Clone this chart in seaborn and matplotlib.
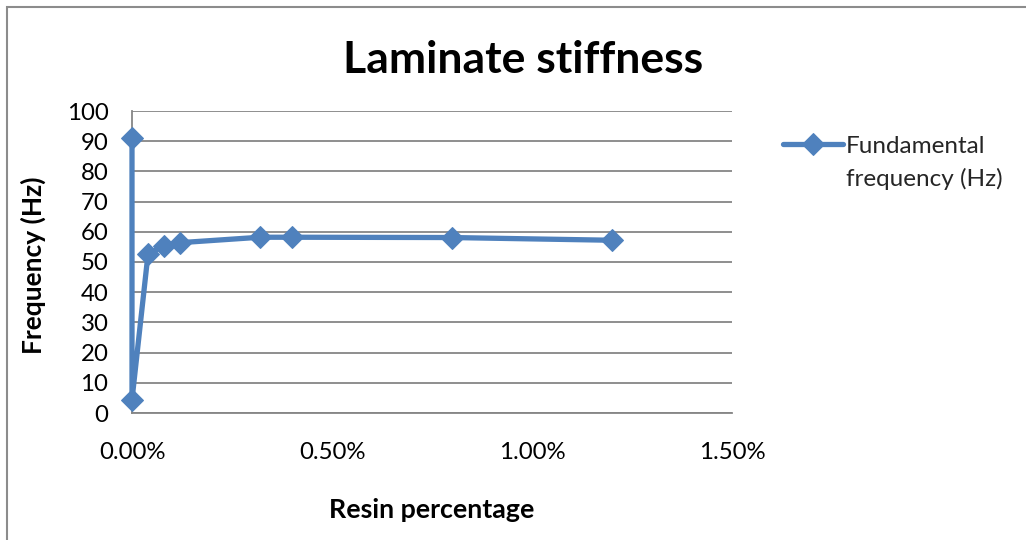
import matplotlib
matplotlib.use("Agg")
import matplotlib.pyplot as plt
from matplotlib.patches import Rectangle
from matplotlib.ticker import FuncFormatter, MultipleLocator
import seaborn as sns
import pandas as pd

# Resin fraction (as a fraction, shown as %) and measured fundamental frequency
resin_fraction = [0.0, 0.0, 0.0004, 0.0008, 0.0012, 0.0032, 0.0040, 0.0080, 0.0120]
frequency_hz = [91.2, 4.4, 52.6, 55.4, 56.4, 58.2, 58.2, 58.1, 57.2]
series_name = "Fundamental\nfrequency (Hz)"

title = "Laminate stiffness"
x_label = "Resin percentage"
y_label = "Frequency (Hz)"

df = pd.DataFrame({"resin": resin_fraction, "freq": frequency_hz})

sns.set_theme(style="white")
plt.rcParams["font.family"] = ["Lato", "DejaVu Sans"]

W, H = 1026, 540
fig = plt.figure(figsize=(W / 100, H / 100), dpi=100)
fig.patch.set_facecolor("white")

left, right, top, bottom = 132, 732, 111, 413
ax = fig.add_axes([left / W, 1 - bottom / H, (right - left) / W, (bottom - top) / H])

blue = "#4F81BD"
grid_c = "#868686"

sns.lineplot(data=df, x="resin", y="freq", sort=False, estimator=None,
             color=blue, linewidth=3.8, marker="D", markersize=11,
             markeredgecolor=blue, markerfacecolor=blue, label=series_name,
             ax=ax, zorder=3, clip_on=False)

ax.set_xlim(0, 0.015)
ax.set_ylim(0, 100)
ax.xaxis.set_major_locator(MultipleLocator(0.005))
ax.yaxis.set_major_locator(MultipleLocator(10))
ax.xaxis.set_major_formatter(FuncFormatter(lambda v, p: f"{v * 100:.2f}%"))
ax.yaxis.set_major_formatter(FuncFormatter(lambda v, p: f"{v:.0f}"))

ax.yaxis.grid(True, color=grid_c, linewidth=1.3)
ax.xaxis.grid(False)
ax.set_axisbelow(True)
for side in ["top", "right"]:
    ax.spines[side].set_visible(False)
for side in ["left", "bottom"]:
    ax.spines[side].set_color(grid_c)
    ax.spines[side].set_linewidth(1.3)

ax.tick_params(axis="y", length=0, pad=17, labelsize=17.3, labelcolor="black")
ax.tick_params(axis="x", length=0, pad=21, labelsize=17.3, labelcolor="black")

ax.set_xlabel(x_label, fontsize=19.3, fontweight="bold", color="black", labelpad=25)
ax.set_ylabel(y_label, fontsize=19, fontweight="bold", color="black")
ax.yaxis.set_label_coords(-0.143, 0.49)

fig.text(523 / W, 1 - 60 / H, title, ha="center", va="center",
         fontsize=32, fontweight="bold", color="black")

# tall handle box lifts the legend line to the first text row
leg = ax.legend(loc="upper left", bbox_to_anchor=(783 / W, 1 - 117 / H),
                bbox_transform=fig.transFigure, frameon=False, fontsize=17.5,
                handlelength=2.45, handleheight=5.8, handletextpad=0.15,
                borderaxespad=0, borderpad=0)
for t in leg.get_texts():
    t.set_linespacing(1.6)

fig.patches.append(Rectangle((7 / W, -0.1), 1.2, 1.1 - 7 / H,
                             transform=fig.transFigure, fill=False,
                             edgecolor="#8c8c8c", linewidth=1.5))

fig.savefig("out.png", dpi=100, facecolor="white")
